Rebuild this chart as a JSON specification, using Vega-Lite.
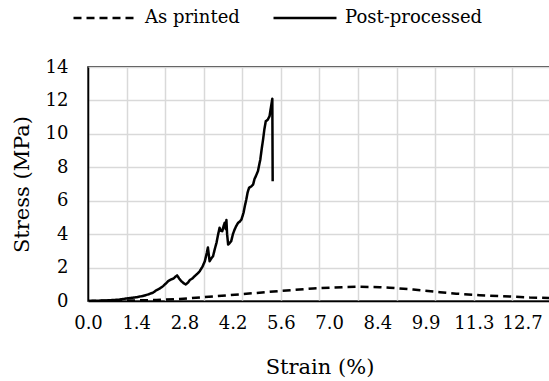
{
  "$schema": "https://vega.github.io/schema/vega-lite/v6.json",
  "autosize": {"type": "none"},
  "width": 463,
  "height": 234,
  "padding": {"left": 88, "top": 67, "right": 0, "bottom": 80},
  "background": "white",
  "config": {
    "font": "DejaVu Serif",
    "view": {"stroke": "black", "strokeWidth": 1.5}
  },
  "datasets": {
    "curves": [
      {"series": "Post-processed", "strain": 0, "stress": 0},
      {"series": "Post-processed", "strain": 0.3, "stress": 0.02},
      {"series": "Post-processed", "strain": 0.6, "stress": 0.04},
      {"series": "Post-processed", "strain": 0.9, "stress": 0.08},
      {"series": "Post-processed", "strain": 1.12, "stress": 0.15},
      {"series": "Post-processed", "strain": 1.4, "stress": 0.22},
      {"series": "Post-processed", "strain": 1.6, "stress": 0.3},
      {"series": "Post-processed", "strain": 1.75, "stress": 0.39},
      {"series": "Post-processed", "strain": 1.9, "stress": 0.5},
      {"series": "Post-processed", "strain": 2.0, "stress": 0.65},
      {"series": "Post-processed", "strain": 2.1, "stress": 0.75},
      {"series": "Post-processed", "strain": 2.19, "stress": 0.89},
      {"series": "Post-processed", "strain": 2.3, "stress": 1.1},
      {"series": "Post-processed", "strain": 2.34, "stress": 1.19},
      {"series": "Post-processed", "strain": 2.43, "stress": 1.29},
      {"series": "Post-processed", "strain": 2.5, "stress": 1.35},
      {"series": "Post-processed", "strain": 2.55, "stress": 1.45},
      {"series": "Post-processed", "strain": 2.6, "stress": 1.53},
      {"series": "Post-processed", "strain": 2.66, "stress": 1.35},
      {"series": "Post-processed", "strain": 2.72, "stress": 1.19},
      {"series": "Post-processed", "strain": 2.8, "stress": 1.05},
      {"series": "Post-processed", "strain": 2.85, "stress": 0.99},
      {"series": "Post-processed", "strain": 2.92, "stress": 1.1},
      {"series": "Post-processed", "strain": 2.97, "stress": 1.25},
      {"series": "Post-processed", "strain": 3.05, "stress": 1.35},
      {"series": "Post-processed", "strain": 3.11, "stress": 1.48},
      {"series": "Post-processed", "strain": 3.2, "stress": 1.65},
      {"series": "Post-processed", "strain": 3.26, "stress": 1.78},
      {"series": "Post-processed", "strain": 3.34, "stress": 2.05},
      {"series": "Post-processed", "strain": 3.41, "stress": 2.38},
      {"series": "Post-processed", "strain": 3.47, "stress": 2.9},
      {"series": "Post-processed", "strain": 3.5, "stress": 3.2},
      {"series": "Post-processed", "strain": 3.53, "stress": 2.7},
      {"series": "Post-processed", "strain": 3.55, "stress": 2.38},
      {"series": "Post-processed", "strain": 3.6, "stress": 2.55},
      {"series": "Post-processed", "strain": 3.65, "stress": 2.68},
      {"series": "Post-processed", "strain": 3.7, "stress": 3.1},
      {"series": "Post-processed", "strain": 3.75, "stress": 3.48},
      {"series": "Post-processed", "strain": 3.8, "stress": 4.0},
      {"series": "Post-processed", "strain": 3.84, "stress": 4.38},
      {"series": "Post-processed", "strain": 3.88, "stress": 4.2},
      {"series": "Post-processed", "strain": 3.92, "stress": 4.18},
      {"series": "Post-processed", "strain": 3.96, "stress": 4.5},
      {"series": "Post-processed", "strain": 3.99, "stress": 4.68},
      {"series": "Post-processed", "strain": 4.02, "stress": 4.3},
      {"series": "Post-processed", "strain": 4.04, "stress": 4.84},
      {"series": "Post-processed", "strain": 4.06, "stress": 4.0},
      {"series": "Post-processed", "strain": 4.09, "stress": 3.38},
      {"series": "Post-processed", "strain": 4.13, "stress": 3.45},
      {"series": "Post-processed", "strain": 4.18, "stress": 3.58},
      {"series": "Post-processed", "strain": 4.23, "stress": 4.0},
      {"series": "Post-processed", "strain": 4.28, "stress": 4.28},
      {"series": "Post-processed", "strain": 4.33, "stress": 4.5},
      {"series": "Post-processed", "strain": 4.38, "stress": 4.68},
      {"series": "Post-processed", "strain": 4.43, "stress": 4.75},
      {"series": "Post-processed", "strain": 4.48, "stress": 4.88},
      {"series": "Post-processed", "strain": 4.54, "stress": 5.28},
      {"series": "Post-processed", "strain": 4.58, "stress": 5.7},
      {"series": "Post-processed", "strain": 4.62, "stress": 6.07},
      {"series": "Post-processed", "strain": 4.66, "stress": 6.5},
      {"series": "Post-processed", "strain": 4.7, "stress": 6.77},
      {"series": "Post-processed", "strain": 4.76, "stress": 6.85},
      {"series": "Post-processed", "strain": 4.82, "stress": 6.97},
      {"series": "Post-processed", "strain": 4.86, "stress": 7.3},
      {"series": "Post-processed", "strain": 4.9, "stress": 7.47},
      {"series": "Post-processed", "strain": 4.96, "stress": 7.77},
      {"series": "Post-processed", "strain": 5.03, "stress": 8.47},
      {"series": "Post-processed", "strain": 5.07, "stress": 9.1},
      {"series": "Post-processed", "strain": 5.11, "stress": 9.66},
      {"series": "Post-processed", "strain": 5.15, "stress": 10.3},
      {"series": "Post-processed", "strain": 5.19, "stress": 10.76},
      {"series": "Post-processed", "strain": 5.22, "stress": 10.8},
      {"series": "Post-processed", "strain": 5.25, "stress": 10.86},
      {"series": "Post-processed", "strain": 5.3, "stress": 11.06},
      {"series": "Post-processed", "strain": 5.34, "stress": 11.6},
      {"series": "Post-processed", "strain": 5.38, "stress": 12.1},
      {"series": "Post-processed", "strain": 5.39, "stress": 7.17},
      {"series": "As printed", "strain": 0, "stress": 0},
      {"series": "As printed", "strain": 1.0, "stress": 0.02},
      {"series": "As printed", "strain": 2.0, "stress": 0.06},
      {"series": "As printed", "strain": 2.68, "stress": 0.12},
      {"series": "As printed", "strain": 3.65, "stress": 0.27},
      {"series": "As printed", "strain": 4.62, "stress": 0.43},
      {"series": "As printed", "strain": 5.6, "stress": 0.6},
      {"series": "As printed", "strain": 6.57, "stress": 0.75},
      {"series": "As printed", "strain": 7.54, "stress": 0.84},
      {"series": "As printed", "strain": 7.83, "stress": 0.85},
      {"series": "As printed", "strain": 8.52, "stress": 0.83},
      {"series": "As printed", "strain": 8.8, "stress": 0.8},
      {"series": "As printed", "strain": 9.49, "stress": 0.69},
      {"series": "As printed", "strain": 10.27, "stress": 0.53},
      {"series": "As printed", "strain": 10.75, "stress": 0.44},
      {"series": "As printed", "strain": 11.43, "stress": 0.35},
      {"series": "As printed", "strain": 12.4, "stress": 0.26},
      {"series": "As printed", "strain": 12.9, "stress": 0.21},
      {"series": "As printed", "strain": 13.5, "stress": 0.18}
    ]
  },
  "data": {"name": "curves"},
  "mark": {"type": "line", "strokeWidth": 2.5, "color": "black", "clip": true, "strokeCap": "butt", "strokeJoin": "round"},
  "encoding": {
    "x": {
      "field": "strain", "type": "quantitative",
      "scale": {"domain": [0, 13.514], "nice": false, "zero": false},
      "axis": {
        "title": "Strain (%)",
        "values": [0, 1.12616, 1.4077, 2.25232, 2.8154, 3.37848, 4.2231, 4.50464, 5.6308, 6.75696, 7.0385, 7.88312, 8.4462, 9.00928, 9.8539, 10.13544, 11.2616, 12.38776, 12.6693],
        "labelExpr": "abs(datum.value/1.4077 - round(datum.value/1.4077)) < 0.01 ? format(datum.value, '.1f') : ''",
        "labelOverlap": false,
        "labelFlush": false,
        "labelBound": false,
        "labelFont": "DejaVu Serif",
        "labelColor": "black",
        "labelFontSize": 18,
        "labelPadding": 13,
        "ticks": false,
        "domainColor": "black",
        "domainWidth": 1.5,
        "grid": true,
        "gridColor": "#d9d9d9",
        "gridWidth": 1.5,
        "gridOpacity": {"condition": {"test": "abs(datum.value/1.12616 - round(datum.value/1.12616)) < 0.01", "value": 1}, "value": 0},
        "titleFont": "DejaVu Serif",
        "titleColor": "black",
        "titleFontWeight": "normal",
        "titleFontSize": 21,
        "titlePadding": 24
      }
    },
    "y": {
      "field": "stress", "type": "quantitative",
      "scale": {"domain": [0, 14], "nice": false},
      "axis": {
        "title": "Stress (MPa)",
        "values": [0, 2, 4, 6, 8, 10, 12, 14],
        "labelFont": "DejaVu Serif",
        "labelColor": "black",
        "labelFontSize": 18,
        "labelPadding": 20,
        "ticks": false,
        "domainColor": "black",
        "domainWidth": 1.5,
        "grid": true,
        "gridColor": "#d9d9d9",
        "gridWidth": 1.5,
        "titleFont": "DejaVu Serif",
        "titleColor": "black",
        "titleFontWeight": "normal",
        "titleFontSize": 21,
        "titlePadding": 13
      }
    },
    "strokeDash": {
      "field": "series", "type": "nominal",
      "scale": {"domain": ["As printed", "Post-processed"], "range": [[8, 5], [1, 0]]},
      "legend": {
        "title": null,
        "orient": "none",
        "direction": "horizontal",
        "legendX": -16,
        "legendY": -82,
        "symbolType": "stroke",
        "symbolSize": 3969,
        "symbolStrokeWidth": 2.5,
        "symbolStrokeColor": "black",
        "labelFont": "DejaVu Serif",
        "labelFontSize": 18,
        "labelColor": "black",
        "labelOffset": 7,
        "columnPadding": 28
      }
    }
  }
}
